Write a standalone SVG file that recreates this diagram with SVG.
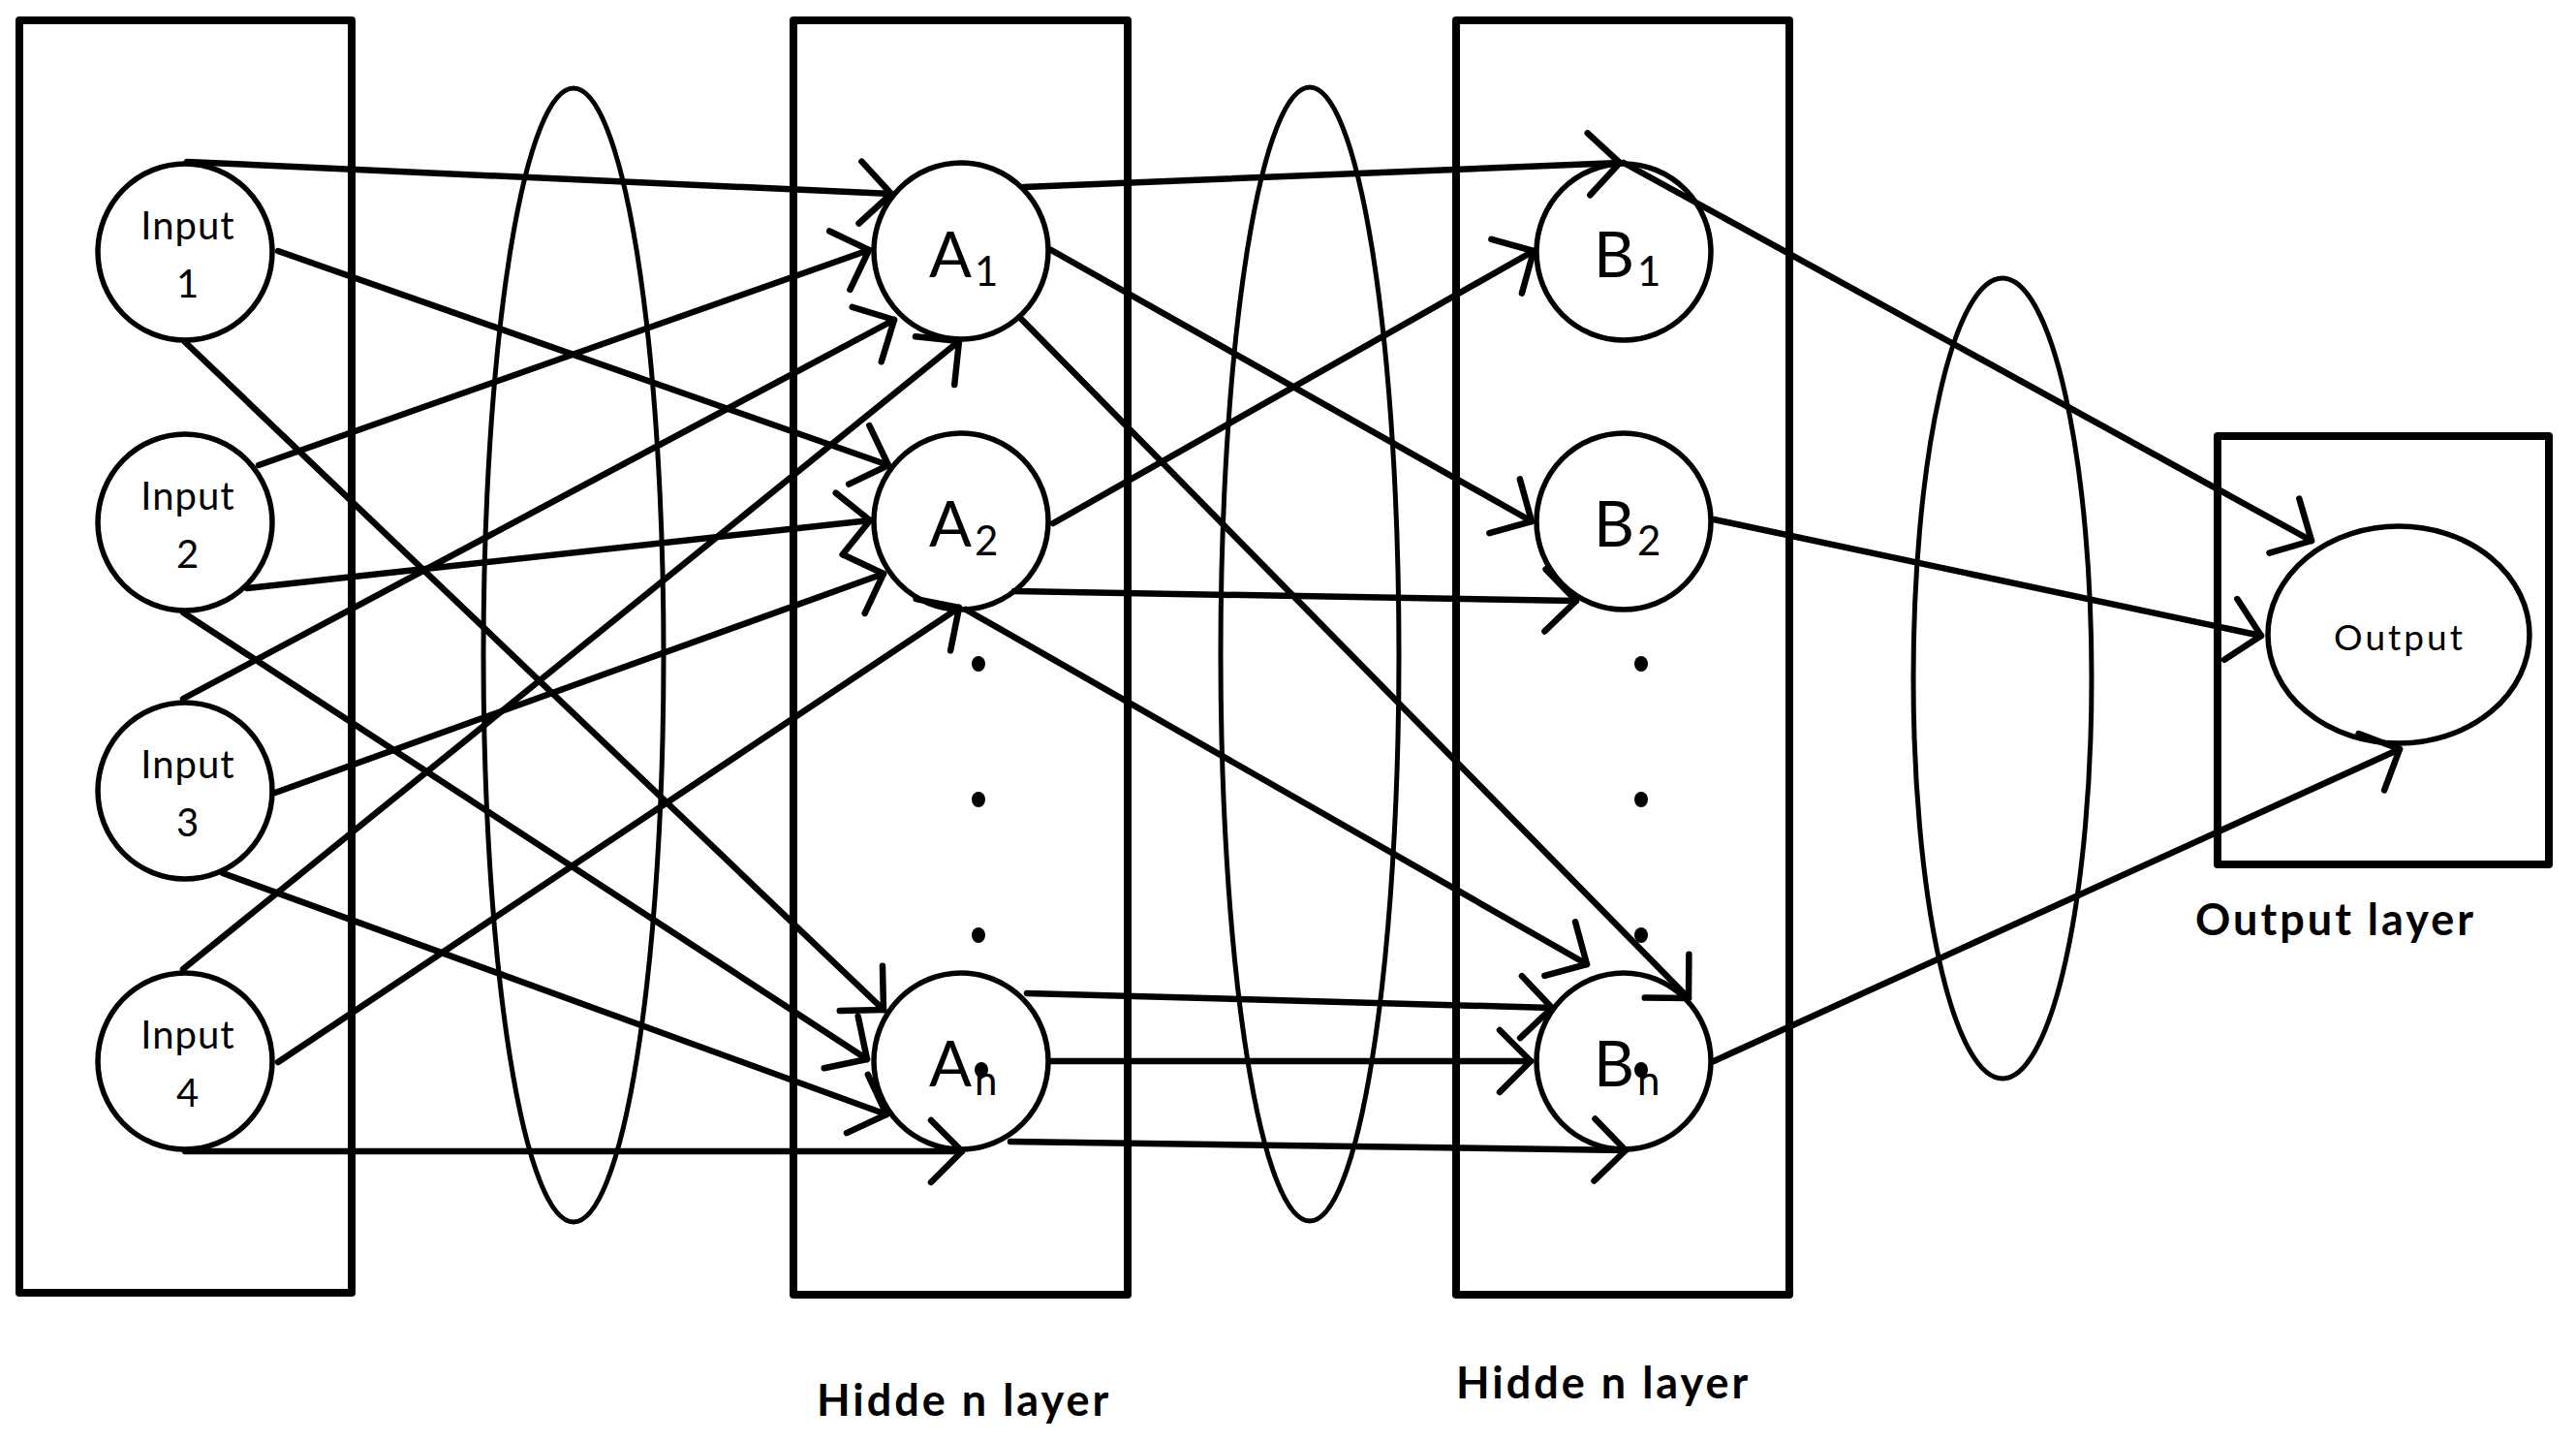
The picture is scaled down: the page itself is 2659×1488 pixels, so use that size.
<svg xmlns="http://www.w3.org/2000/svg" width="2659" height="1488" viewBox="0 0 2659 1488">
<style>
.box{fill:none;stroke:#000;stroke-width:8;stroke-linejoin:round}
.grp{fill:none;stroke:#000;stroke-width:5}
.node{fill:#fff;stroke:#000;stroke-width:5.5}
.con line{stroke:#000;stroke-width:6.5;stroke-linecap:round;marker-end:url(#arr)}
.t{font-family:Lato,"Liberation Sans",sans-serif;fill:#000}
.in{font-size:40px;text-anchor:middle;letter-spacing:1px}
.big{font-size:65px}
.sub{font-size:42px}
.cap{font-size:45px;font-weight:bold;letter-spacing:3px}
.dot{fill:#000}
</style>
<defs>
<marker id="arr" markerUnits="userSpaceOnUse" markerWidth="80" markerHeight="80" viewBox="-40 -40 80 80" refX="0" refY="0" orient="auto" overflow="visible">
<path d="M-32,-32 L0,0 L-32,32" fill="none" stroke="#000" stroke-width="6.5" stroke-linecap="round" stroke-linejoin="round"/>
</marker>
</defs>
<rect width="2659" height="1488" fill="#fff"/>

<g id="layer-boxes">
<rect id="input-layer" class="box" x="20" y="21" width="343" height="1313"/>
<rect id="hidden-layer-a" class="box" x="819" y="21" width="345" height="1315"/>
<rect id="hidden-layer-b" class="box" x="1503" y="21" width="344" height="1315"/>
<rect id="output-layer" class="box" x="2289" y="450" width="342" height="442"/>
</g>

<g id="weight-groups">
<ellipse class="grp" cx="592" cy="676" rx="93" ry="585"/>
<ellipse class="grp" cx="1352" cy="675" rx="92" ry="585"/>
<ellipse class="grp" cx="2067" cy="700" rx="92" ry="413"/>
</g>

<g id="input1"><ellipse class="node" cx="191" cy="260" rx="90" ry="91"/><text class="t in" x="194" y="247">Input</text><text class="t in" x="194" y="307">1</text></g>
<g id="input2"><ellipse class="node" cx="191" cy="539" rx="90" ry="91"/><text class="t in" x="194" y="526">Input</text><text class="t in" x="194" y="586">2</text></g>
<g id="input3"><ellipse class="node" cx="191" cy="816" rx="90" ry="91"/><text class="t in" x="194" y="803">Input</text><text class="t in" x="194" y="863">3</text></g>
<g id="input4"><ellipse class="node" cx="191" cy="1095" rx="90" ry="91"/><text class="t in" x="194" y="1082">Input</text><text class="t in" x="194" y="1142">4</text></g>

<g id="a1"><ellipse class="node" cx="992" cy="259" rx="90" ry="91"/><text class="t big" x="959" y="286">A<tspan class="sub" dx="3" dy="9">1</tspan></text></g>
<g id="a2"><ellipse class="node" cx="992" cy="538" rx="90" ry="91"/><text class="t big" x="959" y="564">A<tspan class="sub" dx="3" dy="9">2</tspan></text></g>
<g id="an"><ellipse class="node" cx="992" cy="1095" rx="90" ry="91"/><text class="t big" x="959" y="1121">A<tspan class="sub" dx="3" dy="9">n</tspan></text></g>

<g id="b1"><ellipse class="node" cx="1676" cy="260" rx="90" ry="91"/><text class="t big" x="1645" y="286">B<tspan class="sub" dx="3" dy="9">1</tspan></text></g>
<g id="b2"><ellipse class="node" cx="1676" cy="538" rx="90" ry="91"/><text class="t big" x="1645" y="564">B<tspan class="sub" dx="3" dy="9">2</tspan></text></g>
<g id="bn"><ellipse class="node" cx="1676" cy="1095" rx="90" ry="91"/><text class="t big" x="1645" y="1121">B<tspan class="sub" dx="3" dy="9">n</tspan></text></g>

<g id="output"><ellipse class="node" cx="2476" cy="655" rx="135" ry="112"/><text class="t" x="2477" y="671" font-size="37" text-anchor="middle" letter-spacing="3">Output</text></g>

<g id="ellipsis-dots">
<ellipse class="dot" cx="1010" cy="685" rx="7" ry="8"/>
<ellipse class="dot" cx="1010" cy="825" rx="7" ry="8"/>
<ellipse class="dot" cx="1010" cy="965" rx="7" ry="8"/>
<ellipse class="dot" cx="1013" cy="1104" rx="7" ry="8"/>
<ellipse class="dot" cx="1694" cy="685" rx="7" ry="8"/>
<ellipse class="dot" cx="1694" cy="825" rx="7" ry="8"/>
<ellipse class="dot" cx="1694" cy="965" rx="7" ry="8"/>
<ellipse class="dot" cx="1694" cy="1104" rx="7" ry="8"/>
</g>

<g id="connectors" class="con">
<line x1="193" y1="167" x2="920" y2="200"/>
<line x1="287" y1="259" x2="917" y2="480"/>
<line x1="191" y1="353" x2="912" y2="1042"/>
<line x1="267" y1="480" x2="897" y2="258"/>
<line x1="255" y1="607" x2="898" y2="537"/>
<line x1="189" y1="632" x2="895" y2="1093"/>
<line x1="189" y1="721" x2="923" y2="330"/>
<line x1="284" y1="818" x2="912" y2="592"/>
<line x1="230" y1="901" x2="915" y2="1150"/>
<line x1="189" y1="1000" x2="990" y2="352"/>
<line x1="287" y1="1096" x2="990" y2="627"/>
<line x1="191" y1="1188" x2="993" y2="1188"/>
<line x1="1057" y1="193" x2="1672" y2="168"/>
<line x1="1085" y1="258" x2="1581" y2="538"/>
<line x1="1054" y1="329" x2="1743" y2="1030"/>
<line x1="1087" y1="540" x2="1583" y2="259"/>
<line x1="1047" y1="610" x2="1627" y2="620"/>
<line x1="997" y1="629" x2="1638" y2="995"/>
<line x1="1060" y1="1025" x2="1602" y2="1040"/>
<line x1="1085" y1="1095" x2="1580" y2="1095"/>
<line x1="1043" y1="1178" x2="1678" y2="1187"/>
<line x1="1676" y1="168" x2="2386" y2="558"/>
<line x1="1769" y1="536" x2="2334" y2="656"/>
<line x1="1769" y1="1095" x2="2477" y2="773"/>
</g>

<g id="labels">
<text class="t cap" x="843" y="1461">Hidde n layer</text>
<text class="t cap" x="1503" y="1443">Hidde n layer</text>
<text class="t cap" x="2266" y="965" font-size="47" letter-spacing="4">Output layer</text>
</g>
</svg>
